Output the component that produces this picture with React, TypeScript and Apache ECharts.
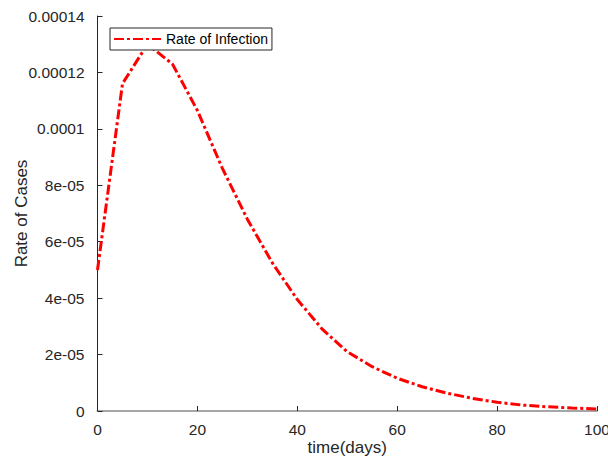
import React, { useEffect, useRef } from "react";
import * as echarts from "echarts";

// Rate of infection sampled every 5 days
const days = [0, 5, 10, 15, 20, 25, 30, 35, 40, 45, 50, 55, 60, 65, 70, 75, 80, 85, 90, 95, 100];
const infectionRate = [
  5.0e-5, 11.6e-5, 13.0e-5, 12.3e-5, 10.65e-5, 8.6e-5, 6.8e-5, 5.25e-5, 3.95e-5,
  2.9e-5, 2.1e-5, 1.57e-5, 1.16e-5, 0.86e-5, 0.63e-5, 0.45e-5, 0.31e-5,
  0.21e-5, 0.15e-5, 0.106e-5, 0.07e-5,
];
const yTickLabels = ["0", "2e-05", "4e-05", "6e-05", "8e-05", "0.0001", "0.00012", "0.00014"];
const xTickLabels = ["0", "20", "40", "60", "80", "100"];

const FONT = "'Liberation Sans', Arial, sans-serif";
const AXIS = "#262626";

export default function App() {
  const ref = useRef<HTMLDivElement>(null);

  useEffect(() => {
    if (!ref.current) return;
    const chart = echarts.init(ref.current, undefined, { renderer: "svg" });
    chart.setOption({
      animation: false,
      backgroundColor: "#ffffff",
      grid: {
        left: 97.5,
        right: 11,
        top: 16,
        bottom: 51,
        containLabel: false,
        outerBoundsMode: "none",
      },
      legend: {
        left: 110,
        top: 28,
        orient: "vertical",
        backgroundColor: "#ffffff",
        borderColor: AXIS,
        borderWidth: 1,
        borderRadius: 0,
        padding: [4, 4, 4, 3],
        itemWidth: 47,
        itemHeight: 14,
        // the line sample only, no marker on it
        itemStyle: { color: "rgba(0,0,0,0)", borderWidth: 0, opacity: 0 },
        textStyle: { fontFamily: FONT, fontSize: 14, color: "#000000" },
        data: ["Rate of Infection"],
      },
      xAxis: {
        type: "value",
        min: 0,
        max: 100,
        interval: 20,
        name: "time(days)",
        nameLocation: "middle",
        nameGap: 28,
        nameMoveOverlap: false,
        nameTextStyle: { fontFamily: FONT, fontSize: 17, color: AXIS },
        axisLine: { show: true, onZero: false, lineStyle: { color: "#a6a6a6", width: 2 } },
        axisTick: { show: true, inside: true, length: 5, lineStyle: { color: AXIS, width: 1 } },
        axisLabel: {
          margin: 10,
          fontFamily: FONT,
          fontSize: 15.5,
          color: AXIS,
          formatter: (v: number) => xTickLabels[Math.round(v / 20)] ?? "",
        },
        splitLine: { show: false },
      },
      yAxis: {
        type: "value",
        min: 0,
        max: 0.00014,
        interval: 0.00002,
        name: "Rate of Cases",
        nameLocation: "middle",
        nameGap: 68,
        nameRotate: 90,
        nameMoveOverlap: false,
        nameTextStyle: { fontFamily: FONT, fontSize: 17, color: AXIS },
        axisLine: { show: true, onZero: false, lineStyle: { color: AXIS, width: 1 } },
        axisTick: { show: true, inside: true, length: 5, lineStyle: { color: AXIS, width: 1 } },
        axisLabel: {
          margin: 13,
          fontFamily: FONT,
          fontSize: 15.5,
          color: AXIS,
          formatter: (v: number) => yTickLabels[Math.round(v / 0.00002)] ?? "",
        },
        splitLine: { show: false },
      },
      series: [
        {
          name: "Rate of Infection",
          type: "line",
          data: days.map((d, i) => [d, infectionRate[i]]),
          showSymbol: false,
          symbol: "none",
          lineStyle: { color: "#ff0000", width: 3, type: [10, 3, 3, 3] },
          itemStyle: { color: "#ff0000" },
          z: 2,
        },
      ],
    });
    return () => chart.dispose();
  }, []);

  return (
    <div
      ref={ref}
      style={{ position: "fixed", left: 0, top: 0, width: 608, height: 462, background: "#fff" }}
    />
  );
}
